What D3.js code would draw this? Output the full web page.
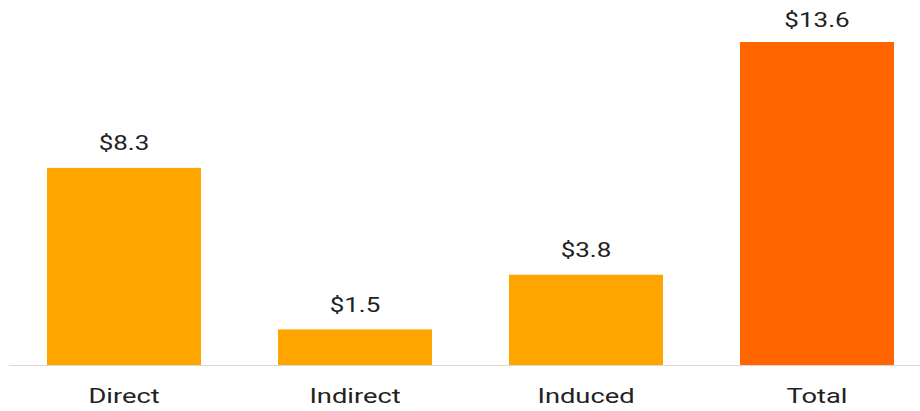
<!DOCTYPE html>
<html>
<head>
<meta charset="utf-8">
<script src="https://cdn.jsdelivr.net/npm/d3@7"></script>
<style>
  body { margin: 0; background: #fff; }
  svg text { font-family: Roboto, "Noto Sans", sans-serif; fill: #222; }
</style>
</head>
<body>
<div id="chart"></div>
<script>
var categories = ["Direct", "Indirect", "Induced", "Total"];
var values = [8.3, 1.5, 3.8, 13.6];
var valueLabels = ["$8.3", "$1.5", "$3.8", "$13.6"];
var barColors = ["#FFA500", "#FFA500", "#FFA500", "#FF6600"];

var svgWidth = 920;
var svgHeight = 411;
var stretch = 1.3; // the text in the picture is drawn wider than normal

var svg = d3.select("#chart")
    .append("svg")
    .attr("width", svgWidth)
    .attr("height", svgHeight);

var xScale = d3.scaleBand()
    .domain(categories)
    .range([8.5, 932.5])
    .paddingInner(1 / 3)
    .paddingOuter(1 / 6);

var yScale = d3.scaleLinear()
    .domain([0, 13.6])
    .range([365, 42]);

var data = categories.map(function(c, i) {
    return { cat: c, value: values[i], label: valueLabels[i], color: barColors[i] };
});

// bars
svg.selectAll("rect.bar")
    .data(data)
    .enter()
    .append("rect")
    .attr("class", "bar")
    .attr("x", d => xScale(d.cat))
    .attr("y", d => yScale(d.value))
    .attr("width", xScale.bandwidth())
    .attr("height", d => yScale(0) - yScale(d.value))
    .attr("fill", d => d.color);

// baseline
svg.append("line")
    .attr("x1", 9)
    .attr("x2", 920)
    .attr("y1", yScale(0) + 0.5)
    .attr("y2", yScale(0) + 0.5)
    .attr("stroke", "#d9d9d9")
    .attr("stroke-width", 1);

// value labels
svg.selectAll("text.value")
    .data(data)
    .enter()
    .append("text")
    .attr("class", "value")
    .attr("transform", d => `translate(${xScale(d.cat) + xScale.bandwidth() / 2}, ${Math.max(yScale(d.value) - 17.5, 26.5)}) scale(${stretch}, 1)`)
    .attr("text-anchor", "middle")
    .attr("font-size", 20)
    .text(d => d.label);

// category labels
svg.selectAll("text.cat")
    .data(data)
    .enter()
    .append("text")
    .attr("class", "cat")
    .attr("transform", d => `translate(${xScale(d.cat) + xScale.bandwidth() / 2}, 403) scale(${stretch}, 1)`)
    .attr("text-anchor", "middle")
    .attr("font-size", 21)
    .text(d => d.cat);
</script>
</body>
</html>
